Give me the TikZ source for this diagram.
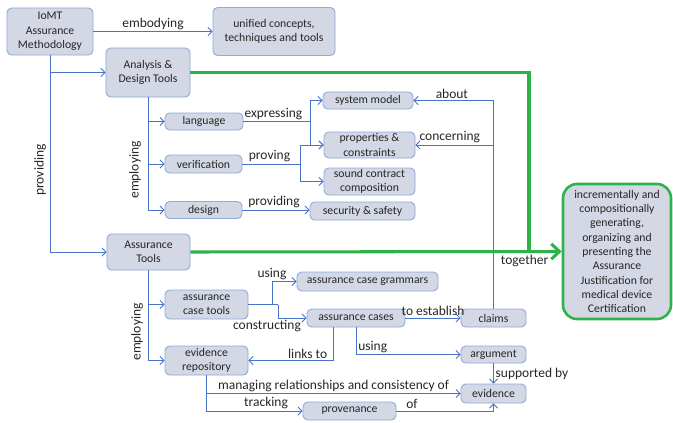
\documentclass[tikz,border=0pt]{standalone}
\usepackage{fontspec}
\setmainfont{Carlito}
\usetikzlibrary{arrows.meta}

\definecolor{boxfill}{HTML}{D3D8E4}
\definecolor{boxline}{HTML}{8FAADC}
\definecolor{linkblue}{HTML}{4A72C6}
\definecolor{goalgreen}{HTML}{2DB34A}
\definecolor{txt}{HTML}{262626}

\tikzset{
  box/.style={draw=boxline, fill=boxfill, rounded corners=4pt, line width=0.8pt,
    align=center, inner sep=1pt, text=txt, font=\fontsize{10}{12.2}\selectfont},
  lbl/.style={text=txt, font=\fontsize{11.5}{13}\selectfont, inner sep=1.5pt},
  plain/.style={draw=linkblue, line width=0.7pt},
  link/.style={plain, -{Straight Barb[length=3.5pt,width=7pt]}},
  goalline/.style={draw=goalgreen, line width=2.6pt},
}

\begin{document}
\begin{tikzpicture}[x=0.03cm,y=-0.03cm]

\useasboundingbox (0,0) rectangle (673,423);

% top row
\node [box, minimum width=2.58cm, minimum height=1.41cm] (iomt) at (50,31.5) {IoMT\\Assurance\\Methodology};
\node [box, minimum width=3.66cm, minimum height=1.44cm] (unified) at (274,31.5) {unified concepts,\\techniques and tools};
\draw[link] (iomt.east) -- node[lbl, above] (lemb) {embodying} (unified.west);

% analysis & design tools
\node [box, minimum width=2.52cm, minimum height=1.47cm] (adt) at (148,72.5) {Analysis \&\\Design Tools};
\node [box, minimum width=2.34cm, minimum height=0.51cm] (lang) at (204,121.5) {language};
\node [box, minimum width=2.31cm, minimum height=0.54cm] (verif) at (203.5,164) {verification};
\node [box, minimum width=2.31cm, minimum height=0.51cm] (design) at (203.5,210) {design};

\node [box, minimum width=2.7cm, minimum height=0.51cm] (sysmodel) at (368,100.5) {system model};
\node [box, minimum width=2.73cm, minimum height=0.78cm] (props) at (369.5,145) {properties \&\\constraints};
\node [box, minimum width=2.73cm, minimum height=0.81cm] (sound) at (369.5,181.5) {sound contract\\composition};
\node [box, minimum width=3.15cm, minimum height=0.54cm] (secsafe) at (362.5,211) {security \& safety};

% assurance tools
\node [box, minimum width=2.49cm, minimum height=1.08cm] (at) at (148.5,252) {Assurance\\Tools};
\node [box, minimum width=2.49cm, minimum height=0.87cm] (act) at (206.5,304.5) {assurance\\case tools};
\node [box, minimum width=2.49cm, minimum height=0.87cm] (evrep) at (206.5,360.5) {evidence\\repository};

\node [box, minimum width=4.23cm, minimum height=0.57cm] (grammars) at (367.5,281.5) {assurance case grammars};
\node [box, minimum width=2.94cm, minimum height=0.54cm] (acases) at (356,318) {assurance cases};
\node [box, minimum width=1.95cm, minimum height=0.54cm] (claims) at (493.5,318) {claims};
\node [box, minimum width=1.95cm, minimum height=0.51cm] (argument) at (493.5,354.5) {argument};
\node [box, minimum width=1.95cm, minimum height=0.57cm] (evidence) at (493.5,393.5) {evidence};
\node [box, minimum width=2.79cm, minimum height=0.54cm] (prov) at (349.5,411) {provenance};

% goal
\node [box, draw=goalgreen, line width=2.2pt, rounded corners=12pt,
       minimum width=3.24cm, minimum height=4.05cm] (goal) at (617,251.5)
  {incrementally and\\compositionally\\generating,\\organizing and\\presenting the\\Assurance\\Justification for\\medical device\\Certification};

% providing
\draw[link] (iomt.south) |- (adt.west);
\draw[link] (iomt.south) |- (at.west);
\node [lbl, rotate=90] (lprov) at (40,170) {providing};

% employing (analysis)
\draw[link] (adt.south) |- (lang.west);
\draw[link] (adt.south) |- (verif.west);
\draw[link] (adt.south) |- (design.west);
\node [lbl, rotate=90] (lemp1) at (135,170) {employing};

\coordinate (jlang) at (310,121.5);
\coordinate (jver) at (300,164);
\draw[plain] (lang.east) -- node[lbl, above, pos=0.45] (lexp) {expressing} (jlang);
\draw[link] (jlang) |- (sysmodel.west);
\draw[link] (jlang) |- (props.west);
\draw[plain] (verif.east) -- node[lbl, above, pos=0.47] (lprove) {proving} (jver);
\draw[link] (jver) |- (props.west);
\draw[link] (jver) |- (sound.west);
\draw[link] (design.east) -- node[lbl, above, pos=0.47] (lprovd) {providing} (design.east -| secsafe.west);

\draw[link] (claims.north) |- node[lbl, above, pos=0.76] (labout) {about} (sysmodel.east);
\draw[link] (claims.north) |- node[lbl, above, pos=0.78] (lconc) {concerning} (props.east);

% together
\coordinate (jtog) at (529,252);
\draw[goalline] (adt.east) -| (jtog);
\draw[goalline, -{Straight Barb[length=7pt,width=13pt]}] (at.east) -- node[lbl, below, pos=0.9] (ltog) {together} (goal.west);

% employing (assurance)
\draw[link] (at.south) |- (act.west);
\draw[link] (at.south) |- (evrep.west);
\node [lbl, rotate=90] (lemp2) at (137,332) {employing};

\coordinate (jact) at (272,304.5);
\coordinate (jcase) at (278,304.5);
\draw[plain] (act.east) -- (jcase);
\draw[link] (jact) |- node[lbl, above, pos=0.5] (lusing) {using} (grammars.west);
\draw[link] (jcase) |- node[lbl, below, pos=0.5, xshift=-0.33cm] (lconstr) {constructing} (acases.west);

\draw[link] (acases.east) -- node[lbl, above] (lest) {to establish} (claims.west);
\draw[link] ([xshift=-0.69cm]acases.south) |- node[lbl, above, pos=0.65] (llink) {links to} (evrep.east);
\draw[link] (acases.south) |- node[lbl, above, pos=0.58] (luse2) {using} (argument.west);
\draw[link] (argument.south) -- node[lbl, right] (lsup) {supported by} (evidence.north);

\draw[link] (evrep.south) |- node[lbl, above, pos=0.75] (lmanage) {managing relationships and consistency of} (evidence.west);
\draw[link] (evrep.south) |- node[lbl, above, pos=0.81] (ltrack) {tracking} (prov.west);
\draw[link] (prov.east) -| node[lbl, above, pos=0.08] (lof) {of} (evidence.south);

\end{tikzpicture}
\end{document}
